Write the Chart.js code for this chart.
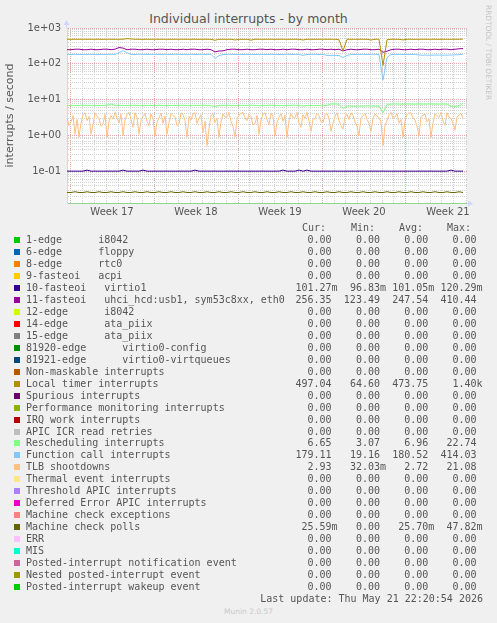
<!DOCTYPE html>
<html>
<head>
<meta charset="utf-8">
<script src="https://cdn.jsdelivr.net/npm/chart.js"></script>
<style>
body { margin: 0; background: #f0f0f0; width: 497px; height: 623px; overflow: hidden; position: relative; font-family: "DejaVu Sans", sans-serif; color: #555; }
#title { position: absolute; left: 0; top: 11px; width: 497px; text-align: center; font-size: 12.5px; line-height: 16px; }
#wrap { position: absolute; left: 0; top: 0; width: 497px; height: 225px; }
#rrd { position: absolute; left: 483px; top: 5px; width: 10px; line-height: 10px; writing-mode: vertical-rl; font-size: 7.4px; color: #c4c4c4; white-space: nowrap; }
.mono { position: absolute; font-family: "DejaVu Sans Mono", monospace; font-size: 10px; line-height: 12px; height: 12px; white-space: pre; color: #555; }
.box { position: absolute; width: 6px; height: 6px; }
#munin { position: absolute; left: 0; width: 497px; top: 607px; text-align: center; font-size: 7.5px; color: #c8c8c8; }
</style>
</head>
<body>
<div id="title">Individual interrupts - by month</div>
<div id="wrap"><canvas id="chart" width="497" height="225"></canvas></div>
<div id="rrd">RRDTOOL / TOBI OETIKER</div>
<div id="legend"></div>
<div id="munin">Munin 2.0.57</div>
<script>
// legend table
const names = ['1-edge      i8042', '6-edge      floppy', '8-edge      rtc0', '9-fasteoi   acpi',
  '10-fasteoi   virtio1', '11-fasteoi   uhci_hcd:usb1, sym53c8xx, eth0', '12-edge      i8042',
  '14-edge      ata_piix', '15-edge      ata_piix', '81920-edge      virtio0-config',
  '81921-edge      virtio0-virtqueues', 'Non-maskable interrupts', 'Local timer interrupts',
  'Spurious interrupts', 'Performance monitoring interrupts', 'IRQ work interrupts',
  'APIC ICR read retries', 'Rescheduling interrupts', 'Function call interrupts', 'TLB shootdowns',
  'Thermal event interrupts', 'Threshold APIC interrupts', 'Deferred Error APIC interrupts',
  'Machine check exceptions', 'Machine check polls', 'ERR', 'MIS',
  'Posted-interrupt notification event', 'Nested posted-interrupt event', 'Posted-interrupt wakeup event'];
const colors = ['#00CC00', '#0066B3', '#FF8000', '#FFCC00', '#330099', '#990099', '#CCFF00', '#FF0000',
  '#808080', '#008F00', '#00487D', '#B35A00', '#B38F00', '#6B006B', '#8FB300', '#B30000', '#BEBEBE',
  '#80FF80', '#80C9FF', '#FFC080', '#FFE680', '#AA80FF', '#EE00CC', '#FF8080', '#666600', '#FFBFFF',
  '#00FFCC', '#CC6699', '#999900', '#00CC00'];
const curVals = ['0.00 ', '0.00 ', '0.00 ', '0.00 ', '101.27m', '256.35 ', '0.00 ', '0.00 ', '0.00 ', '0.00 ',
  '0.00 ', '0.00 ', '497.04 ', '0.00 ', '0.00 ', '0.00 ', '0.00 ', '6.65 ', '179.11 ', '2.93 ', '0.00 ',
  '0.00 ', '0.00 ', '0.00 ', '25.59m', '0.00 ', '0.00 ', '0.00 ', '0.00 ', '0.00 '];
const minVals = ['0.00 ', '0.00 ', '0.00 ', '0.00 ', '96.83m', '123.49 ', '0.00 ', '0.00 ', '0.00 ', '0.00 ',
  '0.00 ', '0.00 ', '64.60 ', '0.00 ', '0.00 ', '0.00 ', '0.00 ', '3.07 ', '19.16 ', '32.03m', '0.00 ',
  '0.00 ', '0.00 ', '0.00 ', '0.00 ', '0.00 ', '0.00 ', '0.00 ', '0.00 ', '0.00 '];
const avgVals = ['0.00 ', '0.00 ', '0.00 ', '0.00 ', '101.05m', '247.54 ', '0.00 ', '0.00 ', '0.00 ', '0.00 ',
  '0.00 ', '0.00 ', '473.75 ', '0.00 ', '0.00 ', '0.00 ', '0.00 ', '6.96 ', '180.52 ', '2.72 ', '0.00 ',
  '0.00 ', '0.00 ', '0.00 ', '25.70m', '0.00 ', '0.00 ', '0.00 ', '0.00 ', '0.00 '];
const maxVals = ['0.00 ', '0.00 ', '0.00 ', '0.00 ', '120.29m', '410.44 ', '0.00 ', '0.00 ', '0.00 ', '0.00 ',
  '0.00 ', '0.00 ', '1.40k', '0.00 ', '0.00 ', '0.00 ', '0.00 ', '22.74 ', '414.03 ', '21.08 ', '0.00 ',
  '0.00 ', '0.00 ', '0.00 ', '47.82m', '0.00 ', '0.00 ', '0.00 ', '0.00 ', '0.00 '];

// x axis: week labels
const weekLabels = ['Week 17', 'Week 18', 'Week 19', 'Week 20', 'Week 21'];

// samples, oldest first
const localTimer = [486,484,486,485,487,484,486,485,486,484,487,485,484,486,485,505,495,486,485,484,
  486,485,487,484,485,486,484,485,487,485,484,486,485,484,486,485,484,455,485,486,
  484,486,462,485,484,486,458,485,484,486,485,487,484,485,486,484,485,486,484,462,
  485,486,484,485,487,484,486,485,470,230,484,486,485,484,486,485,462,484,486,90,
  470,485,486,484,465,485,486,484,485,486,484,487,485,484,486,485,484,486,485,490];
const irq11 = [248,248,256,256,248,248,256,248,248,256,256,248,256,285,275,248,256,256,248,248,
  256,248,248,256,256,248,256,248,248,256,248,256,256,248,248,256,248,215,228,230,
  248,256,256,248,248,256,248,248,256,256,248,256,248,248,256,248,256,256,248,248,
  256,248,248,256,256,248,256,248,256,228,248,256,248,248,256,256,248,248,256,210,
  225,248,256,256,248,248,256,248,256,256,248,248,256,248,256,256,248,256,262,268];
const funcCall = [183,182,184,183,182,183,184,182,183,183,182,184,183,205,232,205,183,182,184,183,
  182,183,184,182,183,183,182,184,183,182,183,184,182,183,183,182,184,142,170,182,
  183,184,182,183,182,184,183,182,183,183,182,184,183,182,183,184,182,183,183,172,
  182,183,184,182,183,172,171,172,170,150,172,183,182,184,183,182,183,184,182,35,
  150,182,183,184,182,183,182,184,175,174,175,174,175,176,174,175,176,178,180,186];
const resched = [6.9,6.9,6.8,6.9,7.0,6.9,6.9,6.8,6.9,6.9,7.0,7.6,6.9,6.9,6.8,6.9,6.9,7.0,6.9,6.8,
  6.9,6.9,6.9,7.0,6.9,6.8,6.9,6.9,6.9,7.0,6.9,6.8,6.9,6.9,7.0,6.9,6.8,6.4,6.9,6.9,
  7.0,6.9,6.8,6.9,6.9,6.9,7.0,6.9,6.8,6.9,6.9,7.0,6.9,6.9,6.8,6.9,6.9,7.0,6.9,6.6,
  6.9,6.9,6.8,6.9,7.0,6.9,7.6,7.6,7.5,5.6,6.6,6.6,6.5,6.6,6.6,6.7,6.6,6.6,6.5,4.3,
  7.4,7.5,7.6,7.5,7.5,7.6,7.5,7.5,7.6,7.5,7.5,7.6,7.5,7.5,7.6,7.5,6.5,6.5,6.6,8.0];
const tlb = [3.2,1.9,2.4,3.6,1.1,2.8,0.9,2.2,3.8,4.3,2.6,3.4,1.1,2.0,4.2,3.5,3.0,1.8,2.1,3.9,
  0.88,2.5,3.6,2.9,4.4,3.1,2.2,4.0,1.0,2.7,3.9,4.4,2.8,1.7,4.3,3.2,1.1,2.6,3.4,4.1,
  2.5,1.9,4.0,3.0,0.95,2.4,3.1,4.2,2.2,3.5,1.1,2.3,4.1,3.6,3.3,1.9,2.0,4.3,3.8,2.6,
  0.9,3.4,2.7,4.0,4.3,2.2,3.0,3.8,1.2,2.5,0.52,1.6,3.5,4.1,2.3,3.0,0.9,2.4,4.0,3.3,
  3.2,4.4,2.4,1.8,0.9,2.9,3.7,4.2,4.4,3.1,2.6,3.9,3.4,2.0,2.1,3.6,1.1,2.7,3.9,4.3,
  2.8,2.0,4.2,3.4,1.0,2.3,3.3,4.0,2.5,3.7,0.88,2.6,4.0,3.2,3.1,4.4,2.2,1.7,3.8,3.0,
  4.4,2.5,1.3,2.9,2.9,4.1,3.6,2.4,2.3,3.8,4.1,3.0,1.3,2.2,3.4,4.3,2.6,1.9,1.5,3.3,
  3.9,2.8,4.3,3.6,2.4,1.8,1.0,3.1,3.5,4.2,2.8,2.2,1.3,3.0,4.0,3.5,3.1,2.4,0.52,1.9,
  2.6,3.8,4.4,3.0,3.3,4.1,2.2,2.8,0.9,2.5,3.8,4.3,4.2,3.1,2.7,1.8,1.0,3.4,3.6,4.0,
  2.4,2.9,0.88,2.3,4.0,3.6,3.2,4.4,2.5,1.9,4.3,3.2,3.0,2.2,1.4,3.3,3.7,4.1,2.9];
const irq10 = [0.101,0.101,0.101,0.101,0.101,0.108,0.101,0.101,0.101,0.101,0.101,0.101,0.101,0.101,0.108,0.101,0.101,0.101,0.101,0.108,
  0.101,0.101,0.101,0.101,0.101,0.101,0.101,0.101,0.101,0.101,0.101,0.101,0.108,0.101,0.101,0.101,0.101,0.101,0.101,0.101,
  0.101,0.101,0.101,0.101,0.101,0.101,0.101,0.101,0.101,0.101,0.101,0.101,0.101,0.101,0.108,0.101,0.101,0.101,0.108,0.101,
  0.108,0.101,0.101,0.101,0.101,0.101,0.101,0.101,0.101,0.101,0.101,0.101,0.101,0.101,0.101,0.101,0.101,0.101,0.101,0.101,
  0.101,0.101,0.101,0.101,0.101,0.101,0.101,0.101,0.101,0.101,0.101,0.101,0.101,0.101,0.101,0.101,0.108,0.101,0.101,0.101];
const mcPolls = [0.0256,0.0256,0.0268,0.0256,0.0256,0.0268,0.0256,0.0256,0.0268,0.0256,0.0256,0.0268,0.0256,0.0256,0.0268,0.0256,0.0256,0.0268,0.0256,0.0256,
  0.0268,0.0256,0.0256,0.0268,0.0256,0.0256,0.0268,0.0256,0.0256,0.0268,0.0256,0.0256,0.0268,0.0256,0.0256,0.0268,0.0256,0.0256,0.0268,0.0256,
  0.0256,0.0268,0.0256,0.0256,0.0268,0.0256,0.0256,0.0268,0.0256,0.0256,0.0268,0.0256,0.0256,0.0268,0.0256,0.0256,0.0268,0.0256,0.0256,0.0268,
  0.0256,0.0256,0.0268,0.0256,0.0256,0.0268,0.0256,0.0256,0.0268,0.0256,0.0256,0.0268,0.0256,0.0256,0.0268,0.0256,0.0256,0.0268,0.0256,0.0256,
  0.0268,0.0256,0.0256,0.0268,0.0256,0.0256,0.0268,0.0256,0.0256,0.0268,0.0256,0.0256,0.0268,0.0256,0.0256,0.0268,0.0256,0.0256,0.0268,0.0256];

// ---- legend below the graph
const legend = document.getElementById('legend');
function addText(txt, css) {
  const d = document.createElement('div');
  d.className = 'mono';
  d.textContent = txt;
  Object.assign(d.style, css);
  legend.appendChild(d);
}
const colRight = [337.6, 386, 434.3, 482.6];
['Cur:', 'Min:', 'Avg:', 'Max:'].forEach((h, k) => addText(h, { left: [302, 351, 399, 447][k] + 'px', top: '222px' }));
names.forEach((n, i) => {
  const cy = 240 + i * 11.97;
  const b = document.createElement('div');
  b.className = 'box';
  b.style.left = '14px';
  b.style.top = (cy - 3) + 'px';
  b.style.background = colors[i];
  legend.appendChild(b);
  addText(n, { left: '26px', top: (cy - 6) + 'px' });
  [curVals[i], minVals[i], avgVals[i], maxVals[i]].forEach((v, k) => {
    addText(v, { right: (497 - colRight[k]) + 'px', top: (cy - 6) + 'px' });
  });
});
addText('Last update: Thu May 21 22:20:54 2026', { right: '14px', top: '593px' });

// ---- graph
const X_MAX = 400 / 12;   // days shown
const SPAN = 33;          // days covered by the samples
function pts(arr) {
  return arr.map((v, i) => ({ x: i * SPAN / (arr.length - 1), y: v }));
}
const drawn = [
  { idx: 4, data: irq10 },
  { idx: 5, data: irq11 },
  { idx: 12, data: localTimer },
  { idx: 17, data: resched },
  { idx: 18, data: funcCall },
  { idx: 19, data: tlb },
  { idx: 24, data: mcPolls }
];

const dayTicks = [];
for (let d = 0.25; d <= X_MAX; d += 1) dayTicks.push(d);
const labelTicks = weekLabels.map((w, k) => 3.75 + 7 * k);
const isWeekLine = v => Math.abs(((v - 0.25) % 7 + 7) % 7) < 0.01;
const isLabel = v => labelTicks.some(t => Math.abs(t - v) < 0.01);

const yTicks = [];
for (let e = -2; e <= 3; e++) {
  for (let m = 1; m <= 9; m++) {
    const v = m * Math.pow(10, e);
    if (v >= 0.013 && v <= 1000.001) yTicks.push(v);
  }
}
const isDecade = v => Math.abs(Math.log10(v) - Math.round(Math.log10(v))) < 1e-6;

const frame = {
  id: 'frame',
  beforeDraw(c) {
    const a = c.chartArea, ctx = c.ctx;
    ctx.save();
    ctx.fillStyle = '#ffffff';
    ctx.fillRect(a.left, a.top, a.right - a.left, a.bottom - a.top);
    ctx.restore();
  },
  afterDraw(c) {
    const a = c.chartArea, ctx = c.ctx;
    ctx.save();
    ctx.strokeStyle = '#CFD6F8';
    ctx.fillStyle = '#CFD6F8';
    ctx.lineWidth = 1;
    ctx.beginPath();
    ctx.moveTo(a.left - 0.5, a.top);
    ctx.lineTo(a.left - 0.5, a.top - 4);
    ctx.moveTo(a.right, a.bottom + 0.5);
    ctx.lineTo(a.right + 2, a.bottom + 0.5);
    ctx.stroke();
    ctx.beginPath();
    ctx.moveTo(a.left - 3.5, a.top - 3);
    ctx.lineTo(a.left + 2.5, a.top - 3);
    ctx.lineTo(a.left - 0.5, a.top - 8);
    ctx.closePath();
    ctx.fill();
    ctx.beginPath();
    ctx.moveTo(a.right + 1, a.bottom - 2.5);
    ctx.lineTo(a.right + 1, a.bottom + 3.5);
    ctx.lineTo(a.right + 6, a.bottom + 0.5);
    ctx.closePath();
    ctx.fill();
    ctx.restore();
  }
};

Chart.defaults.font.family = '"DejaVu Sans", sans-serif';
Chart.defaults.color = '#555';

new Chart(document.getElementById('chart'), {
  type: 'line',
  data: {
    datasets: drawn.map(s => ({
      label: names[s.idx],
      data: pts(s.data),
      borderColor: colors[s.idx],
      backgroundColor: colors[s.idx],
      borderWidth: 1,
      pointRadius: 0,
      tension: 0,
      order: 40 - s.idx
    }))
  },
  options: {
    responsive: false,
    animation: false,
    devicePixelRatio: 1,
    layout: { padding: { left: 0, right: 30, top: 28, bottom: 2 } },
    plugins: { legend: { display: false }, tooltip: { enabled: false }, title: { display: false } },
    scales: {
      x: {
        type: 'linear',
        min: 0,
        max: X_MAX,
        afterBuildTicks(s) {
          s.ticks = dayTicks.concat(labelTicks).sort((p, q) => p - q).map(v => ({ value: v }));
        },
        afterFit(s) { s.height = 20; },
        ticks: {
          autoSkip: false,
          maxRotation: 0,
          padding: 3,
          font: { size: 10 },
          color: '#555',
          callback(v) {
            const k = labelTicks.findIndex(t => Math.abs(t - v) < 0.01);
            return k >= 0 ? weekLabels[k] : '';
          }
        },
        grid: {
          drawTicks: false,
          color(ctx) {
            const v = ctx.tick ? ctx.tick.value : 0;
            if (isLabel(v)) return 'rgba(0,0,0,0)';
            return isWeekLine(v) ? '#e6a3a3' : '#d2d2d2';
          }
        },
        border: { color: '#8ed88e', dash: [1, 1] }
      },
      y: {
        type: 'logarithmic',
        min: 0.01303,
        max: 1000,
        afterBuildTicks(s) { s.ticks = yTicks.map(v => ({ value: v })); },
        afterFit(s) { s.width = 67; },
        ticks: {
          autoSkip: false,
          padding: 6,
          font: { size: 10 },
          color: '#555',
          callback(v) {
            if (!isDecade(v)) return '';
            const e = Math.round(Math.log10(v));
            return '1e' + (e < 0 ? '-' : '+') + String(Math.abs(e)).padStart(2, '0');
          }
        },
        grid: {
          drawTicks: false,
          color(ctx) {
            const v = ctx.tick ? ctx.tick.value : 1;
            return isDecade(v) ? '#e6a3a3' : '#d2d2d2';
          }
        },
        border: { color: '#CFD6F8', dash: [1, 1] },
        title: { display: true, text: 'interrupts / second', font: { size: 11 }, color: '#555', padding: { top: 4, bottom: 0 } }
      }
    }
  },
  plugins: [frame]
});
</script>
</body>
</html>
